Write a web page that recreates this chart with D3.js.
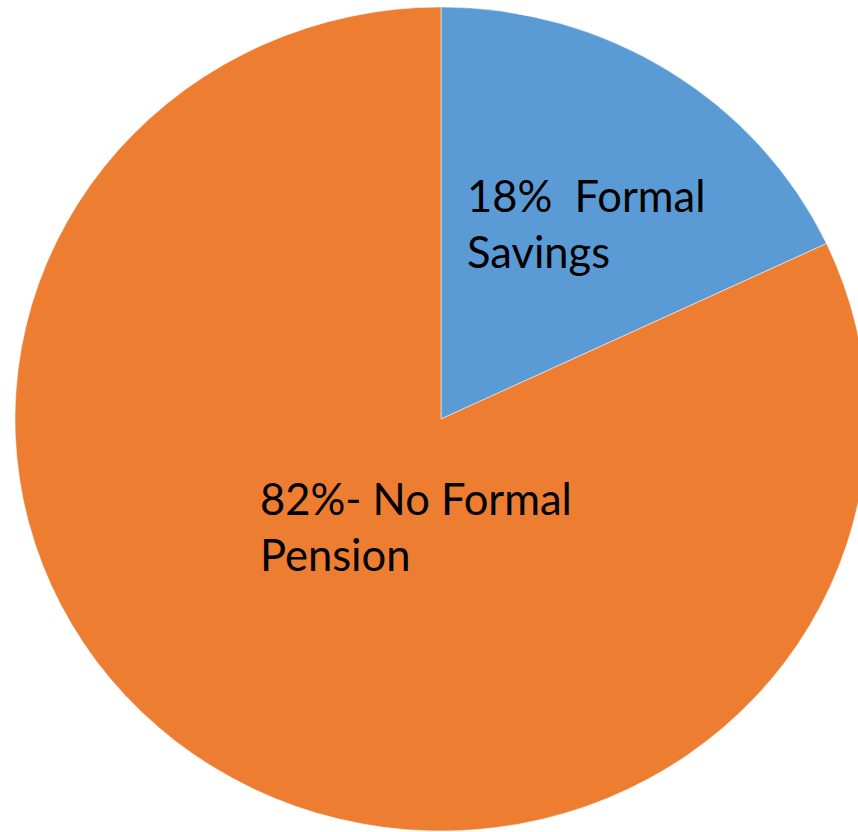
<!DOCTYPE html>
<html><head><meta charset="utf-8">
<script src="https://cdn.jsdelivr.net/npm/d3@7"></script>
<style>body{margin:0;background:#fff}svg{display:block}</style>
</head><body>
<svg id="c" width="858" height="832"></svg>
<script>
const categories = ["Formal Savings", "No Formal Pension"];
const values = [18, 82];
const colors = ["#5B9BD5", "#ED7D31"];
const labelLines = [["18%  Formal", "Savings"], ["82%- No Formal", "Pension"]];

const W = 858, H = 832;
const cx = 441, cy = 419, rx = 426, ry = 412;
const svg = d3.select("#c");
const pie = d3.pie().sort(null).value(d => d)(values);
const arc = d3.arc().innerRadius(0).outerRadius(rx);
const g = svg.append("g").attr("transform", `translate(${cx},${cy}) scale(1,${ry/rx})`);
g.selectAll("path").data(pie).join("path")
  .attr("d", arc)
  .attr("fill", (d, i) => colors[i])
  .attr("stroke", "#fff").attr("stroke-opacity", 0.5).attr("stroke-width", 1)
  .attr("vector-effect", "non-scaling-stroke");

const labelPos = [[467, 212], [260, 515]];
const lh = 56;
labelLines.forEach((lines, i) => {
  const t = svg.append("text").attr("x", labelPos[i][0]).attr("y", labelPos[i][1])
    .attr("font-family", "Lato, 'Open Sans', sans-serif").attr("font-size", 43.5).attr("fill", "#000");
  lines.forEach((l, j) => t.append("tspan").attr("x", labelPos[i][0]).attr("y", labelPos[i][1] + j * lh)
    .attr("xml:space", "preserve").style("white-space", "pre").text(l));
});
</script>
</body></html>
